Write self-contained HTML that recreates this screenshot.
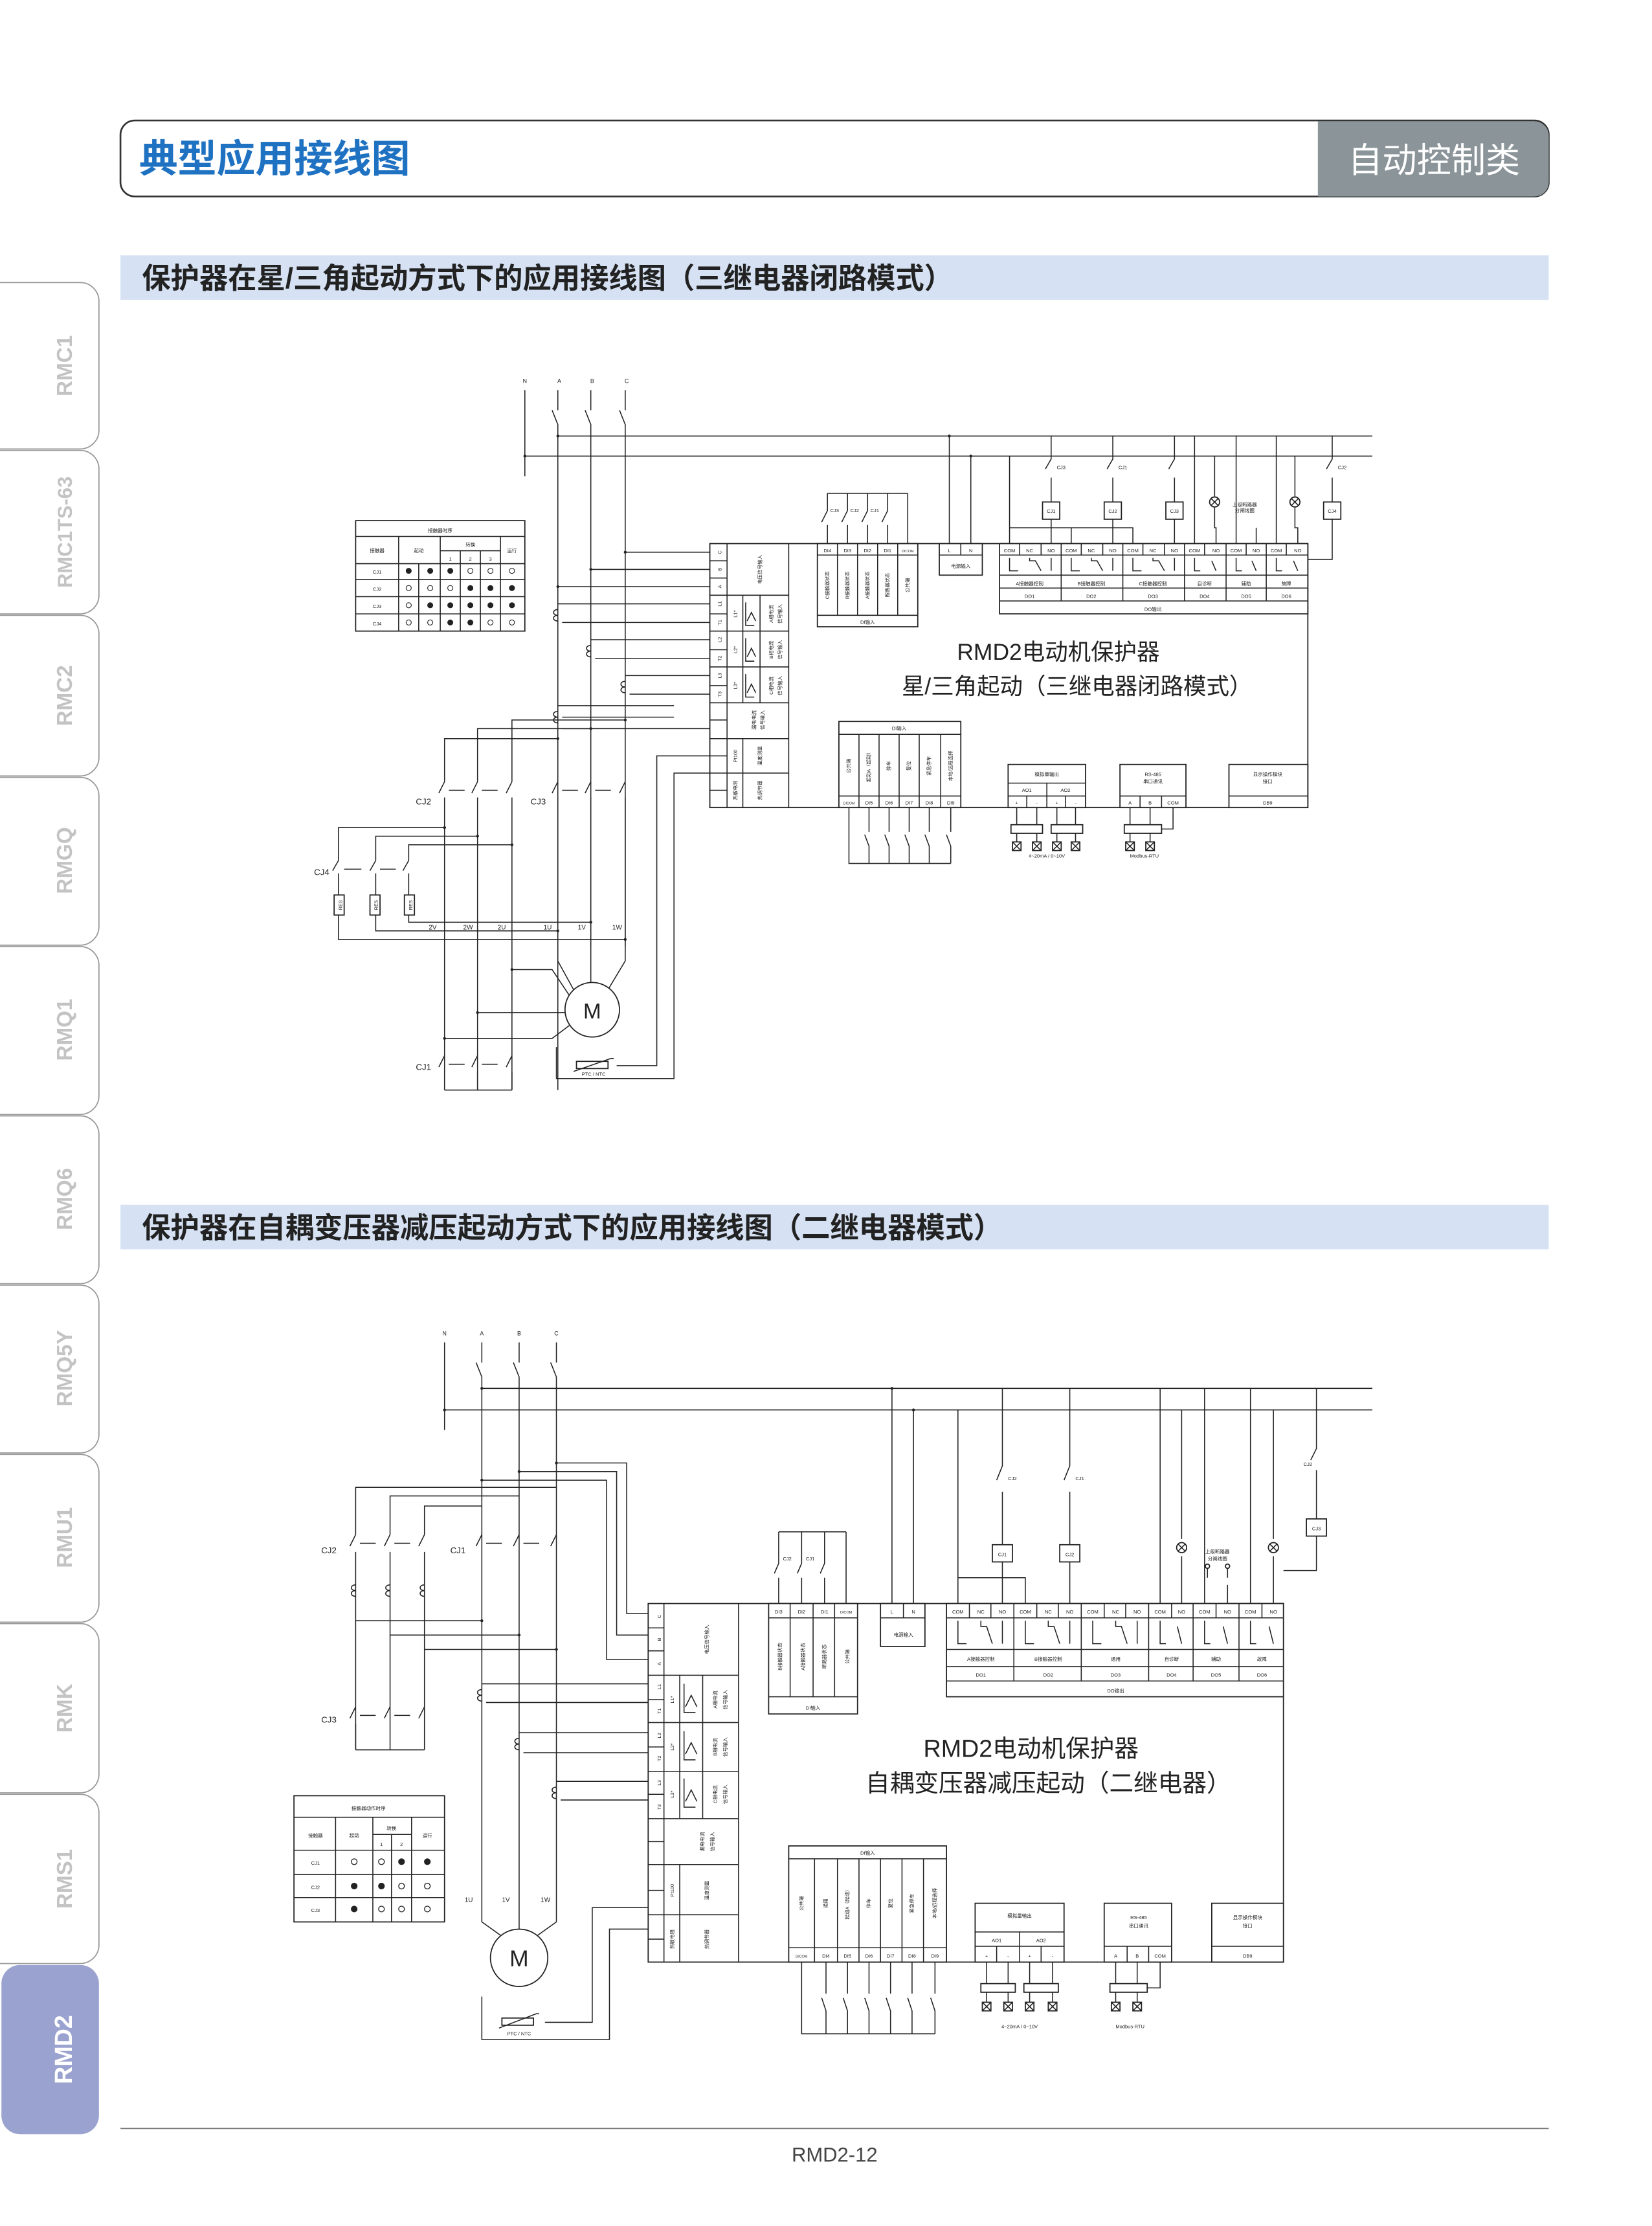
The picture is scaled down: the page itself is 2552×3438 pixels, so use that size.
<!DOCTYPE html>
<html><head><meta charset="utf-8"><style>
html,body{margin:0;padding:0;background:#fff;}
svg{display:block;}
text{font-family:"Liberation Sans","Noto Sans CJK SC",sans-serif;fill:#222;}
.side text{fill:#c3c3c3;}
.side text.w{fill:#fff;}
.l{stroke:#222;stroke-width:.7;fill:none;}
.b{stroke:#222;stroke-width:.8;fill:#fff;}
.t{font-size:4px;text-anchor:middle;}
.s{font-size:3.4px;text-anchor:middle;}
</style></head><body>
<svg width="2552" height="3438" viewBox="0 0 1152 1552" preserveAspectRatio="none" xmlns="http://www.w3.org/2000/svg">
<defs>
<g id="co"><path class="l" d="M0,0 c-4,0 -4,4 0,4 c-4,0 -4,4 0,4"/></g>
<g id="xx"><rect class="b" x="-3" y="-3" width="6" height="6"/><path class="l" d="M-3,-3L3,3M3,-3L-3,3"/></g>
<g id="lamp"><circle class="b" r="3.5"/><path class="l" d="M-2.5,-2.5L2.5,2.5M2.5,-2.5L-2.5,2.5"/></g>
</defs>
<rect width="1152" height="1552" fill="#fff"/>

<!-- Sidebar -->
<g class="side" font-family="Liberation Sans" font-weight="bold" font-size="15">
<path d="M0,197 H56 a13,13 0 0 1 13,13 V300 a13,13 0 0 1 -13,13 H0" fill="#fff" stroke="#999" stroke-width=".8"/>
<path d="M0,314 H56 a13,13 0 0 1 13,13 V415 a13,13 0 0 1 -13,13 H0" fill="#fff" stroke="#999" stroke-width=".8"/>
<path d="M0,429 H56 a13,13 0 0 1 13,13 V528 a13,13 0 0 1 -13,13 H0" fill="#fff" stroke="#999" stroke-width=".8"/>
<path d="M0,542 H56 a13,13 0 0 1 13,13 V646 a13,13 0 0 1 -13,13 H0" fill="#fff" stroke="#999" stroke-width=".8"/>
<path d="M0,660 H56 a13,13 0 0 1 13,13 V764 a13,13 0 0 1 -13,13 H0" fill="#fff" stroke="#999" stroke-width=".8"/>
<path d="M0,778 H56 a13,13 0 0 1 13,13 V882 a13,13 0 0 1 -13,13 H0" fill="#fff" stroke="#999" stroke-width=".8"/>
<path d="M0,896 H56 a13,13 0 0 1 13,13 V1000 a13,13 0 0 1 -13,13 H0" fill="#fff" stroke="#999" stroke-width=".8"/>
<path d="M0,1014 H56 a13,13 0 0 1 13,13 V1118 a13,13 0 0 1 -13,13 H0" fill="#fff" stroke="#999" stroke-width=".8"/>
<path d="M0,1132 H56 a13,13 0 0 1 13,13 V1237 a13,13 0 0 1 -13,13 H0" fill="#fff" stroke="#999" stroke-width=".8"/>
<path d="M0,1251 H56 a13,13 0 0 1 13,13 V1356 a13,13 0 0 1 -13,13 H0" fill="#fff" stroke="#999" stroke-width=".8"/>
<rect x="1" y="1370" width="68" height="118" rx="13" fill="#9aa3cf"/>
<text transform="translate(50,255) rotate(-90)" text-anchor="middle">RMC1</text>
<text transform="translate(50,371) rotate(-90)" text-anchor="middle" font-size="14">RMC1TS-63</text>
<text transform="translate(50,485) rotate(-90)" text-anchor="middle">RMC2</text>
<text transform="translate(50,600) rotate(-90)" text-anchor="middle">RMGQ</text>
<text transform="translate(50,718) rotate(-90)" text-anchor="middle">RMQ1</text>
<text transform="translate(50,836) rotate(-90)" text-anchor="middle">RMQ6</text>
<text transform="translate(50,954) rotate(-90)" text-anchor="middle">RMQ5Y</text>
<text transform="translate(50,1072) rotate(-90)" text-anchor="middle">RMU1</text>
<text transform="translate(50,1191) rotate(-90)" text-anchor="middle">RMK</text>
<text transform="translate(50,1310) rotate(-90)" text-anchor="middle">RMS1</text>
<text class="w" transform="translate(50,1429) rotate(-90)" text-anchor="middle" font-size="17">RMD2</text>
</g>

<!-- Header -->
<path d="M94,84 H1070 a10,10 0 0 1 10,10 V127 a10,10 0 0 1 -10,10 H94 a10,10 0 0 1 -10,-10 V94 a10,10 0 0 1 10,-10Z" fill="#fff" stroke="#333" stroke-width="1.2"/>
<path d="M919,84.6 H1070 a10,10 0 0 1 10,10 V127 a10,10 0 0 1 -10,10 H919Z" fill="#8a9499"/>
<text x="97" y="120" font-size="27" font-weight="bold" style="fill:#1f72c2">典型应用接线图</text>
<text x="1000" y="120" font-size="24" text-anchor="middle" style="fill:#fff">自动控制类</text>

<rect x="84" y="178" width="996" height="31" fill="#d6e2f3"/>
<text x="99" y="201" font-size="20" font-weight="bold">保护器在星/三角起动方式下的应用接线图（三继电器闭路模式）</text>
<rect x="84" y="840" width="996" height="31" fill="#d6e2f3"/>
<text x="99" y="863" font-size="20" font-weight="bold">保护器在自耦变压器减压起动方式下的应用接线图（二继电器模式）</text>

<line x1="84" y1="1484" x2="1080" y2="1484" stroke="#777" stroke-width=".8"/>
<text x="582" y="1507" font-size="14" text-anchor="middle" style="fill:#444">RMD2-12</text>

<!-- ================= DIAGRAM 1 ================= -->
<g>
<text class="t" x="366" y="267">N</text><text class="t" x="390" y="267">A</text><text class="t" x="413" y="267">B</text><text class="t" x="437" y="267">C</text>
<line class="l" x1="366" y1="272" x2="366" y2="332"/>
<path class="l" d="M389,272 V286 M385,286 L389,296 V760 M412,272 V286 M408,286 L412,296 V660 M436,272 V286 M432,286 L436,296 V660"/>
<path class="l" d="M389,304 H957 M366,318 H957"/>
<circle cx="389" cy="304" r="1" fill="#222"/><circle cx="366" cy="318" r="1" fill="#222"/>

<g>
<rect class="b" x="248" y="363" width="118" height="77"/>
<path class="l" d="M248,374 H366 M248,393 H366 M248,404 H366 M248,416 H366 M248,428 H366 M278,374 V440 M292,393 V440 M307,374 V440 M321,384 V440 M335,384 V440 M349,374 V440 M307,384 H349"/>
<text class="s" x="307" y="371">接触器时序</text>
<text class="s" x="263" y="385">接触器</text><text class="s" x="292" y="385">起动</text><text class="s" x="328" y="381">转换</text><text class="s" x="357" y="385">运行</text>
<text class="s" x="314" y="391">1</text><text class="s" x="328" y="391">2</text><text class="s" x="342" y="391">3</text>
<text class="s" x="263" y="400">CJ1</text><text class="s" x="263" y="412">CJ2</text><text class="s" x="263" y="424">CJ3</text><text class="s" x="263" y="436">CJ4</text>
<g fill="#222" stroke="#222" stroke-width=".5">
<circle cx="285" cy="398" r="1.8"/><circle cx="300" cy="398" r="1.8"/><circle cx="314" cy="398" r="1.8"/><circle cx="328" cy="398" r="1.8" fill="#fff"/><circle cx="342" cy="398" r="1.8" fill="#fff"/><circle cx="357" cy="398" r="1.8" fill="#fff"/>
<circle cx="285" cy="410" r="1.8" fill="#fff"/><circle cx="300" cy="410" r="1.8" fill="#fff"/><circle cx="314" cy="410" r="1.8" fill="#fff"/><circle cx="328" cy="410" r="1.8"/><circle cx="342" cy="410" r="1.8"/><circle cx="357" cy="410" r="1.8"/>
<circle cx="285" cy="422" r="1.8" fill="#fff"/><circle cx="300" cy="422" r="1.8"/><circle cx="314" cy="422" r="1.8"/><circle cx="328" cy="422" r="1.8"/><circle cx="342" cy="422" r="1.8"/><circle cx="357" cy="422" r="1.8"/>
<circle cx="285" cy="434" r="1.8" fill="#fff"/><circle cx="300" cy="434" r="1.8" fill="#fff"/><circle cx="314" cy="434" r="1.8"/><circle cx="328" cy="434" r="1.8"/><circle cx="342" cy="434" r="1.8" fill="#fff"/><circle cx="357" cy="434" r="1.8" fill="#fff"/>
</g>
</g>

<path class="l" d="M436,385 H495 M412,397 H495 M389,409 H495 M389,421 H495 M392,434 H495 M412,446 H495 M415,459 H495 M436,471 H495 M439,484 H495 M389,492 H470 M392,500 H470 M392,508 H495"/>
<use href="#co" x="389" y="425"/><use href="#co" x="412" y="450"/><use href="#co" x="436" y="475"/><use href="#co" x="389" y="496"/>
<g fill="#222"><circle cx="436" cy="385" r="1"/><circle cx="412" cy="397" r="1"/><circle cx="389" cy="409" r="1"/></g>

<rect class="b" x="495" y="379" width="417" height="184"/>
<path class="l" d="M495,391 H507 M495,403 H507 M495,415 H550 M495,428 H507 M495,440 H550 M495,453 H507 M495,465 H550 M495,478 H507 M495,490 H550 M495,502 H507 M495,515 H550 M495,527 H507 M495,539 H550 M495,551 H507 M507,379 V563 M518,415 V490 M518,515 V563 M530,415 V490 M550,379 V563"/>
<g class="s">
<text transform="translate(503,385) rotate(-90)">C</text><text transform="translate(503,397) rotate(-90)">B</text><text transform="translate(503,409) rotate(-90)">A</text>
<text transform="translate(503,421) rotate(-90)">L1</text><text transform="translate(503,434) rotate(-90)">T1</text><text transform="translate(503,446) rotate(-90)">L2</text><text transform="translate(503,459) rotate(-90)">T2</text><text transform="translate(503,471) rotate(-90)">L3</text><text transform="translate(503,484) rotate(-90)">T3</text>
<text transform="translate(514,428) rotate(-90)">L1*</text><text transform="translate(514,453) rotate(-90)">L2*</text><text transform="translate(514,478) rotate(-90)">L3*</text>
<text transform="translate(514,527) rotate(-90)">Pt100</text><text transform="translate(514,551) rotate(-90)">热敏电阻</text>
<text transform="translate(531,397) rotate(-90)">电压信号输入</text>
<text transform="translate(539,428) rotate(-90)">A相电流</text><text transform="translate(545,428) rotate(-90)">信号输入</text>
<text transform="translate(539,453) rotate(-90)">B相电流</text><text transform="translate(545,453) rotate(-90)">信号输入</text>
<text transform="translate(539,478) rotate(-90)">C相电流</text><text transform="translate(545,478) rotate(-90)">信号输入</text>
<text transform="translate(527,502) rotate(-90)">漏电电流</text><text transform="translate(533,502) rotate(-90)">信号输入</text>
<text transform="translate(531,527) rotate(-90)">温度测量</text><text transform="translate(531,551) rotate(-90)">热调节器</text>
</g>
<path class="l" d="M520,420 V436 H526 M520,445 V461 H526 M520,470 V486 H526 M521,433 l3,-6 l3,6 M521,458 l3,-6 l3,6 M521,483 l3,-6 l3,6"/>

<rect class="b" x="570" y="379" width="70" height="58"/>
<path class="l" d="M570,387 H640 M570,429 H640 M584,379 V429 M598,379 V429 M612,379 V429 M626,379 V429"/>
<g class="s"><text x="577" y="385">DI4</text><text x="591" y="385">DI3</text><text x="605" y="385">DI2</text><text x="619" y="385">DI1</text><text x="633" y="385" font-size="2.5">DICOM</text><text x="605" y="435">DI输入</text>
<text transform="translate(578,408) rotate(-90)">C接触器状态</text><text transform="translate(592,408) rotate(-90)">B接触器状态</text><text transform="translate(606,408) rotate(-90)">A接触器状态</text><text transform="translate(620,408) rotate(-90)">断路器状态</text><text transform="translate(634,408) rotate(-90)">公共端</text></g>
<path class="l" d="M577,379 V366 M573,364 L577,356 V344 M591,379 V366 M587,364 L591,356 V344 M605,379 V366 M601,364 L605,356 V344 M619,379 V366 M615,364 L619,356 V344 M633,379 V344 M577,344 H633"/>
<g class="s" font-size="2.8"><text x="582" y="357">CJ3</text><text x="596" y="357">CJ2</text><text x="610" y="357">CJ1</text></g>

<rect class="b" x="655" y="379" width="30" height="22"/>
<path class="l" d="M655,387 H685 M670,379 V387 M662,379 V304 M677,379 V318"/>
<text class="s" x="662" y="385">L</text><text class="s" x="677" y="385">N</text><text class="s" x="670" y="396">电源输入</text>
<g fill="#222"><circle cx="662" cy="304" r="1"/><circle cx="677" cy="318" r="1"/></g>

<rect class="b" x="697" y="379" width="215" height="49"/>
<path class="l" d="M697,387 H912 M697,401 H912 M697,410 H912 M697,419 H912 M740,379 V419 M783,379 V419 M826,379 V419 M855,379 V419 M883,379 V419 M711,379 V387 M726,379 V387 M754,379 V387 M769,379 V387 M797,379 V387 M812,379 V387 M840,379 V387 M869,379 V387 M897,379 V387"/>
<g class="s" font-size="3">
<text x="704" y="385">COM</text><text x="718" y="385">NC</text><text x="733" y="385">NO</text>
<text x="747" y="385">COM</text><text x="761" y="385">NC</text><text x="776" y="385">NO</text>
<text x="790" y="385">COM</text><text x="804" y="385">NC</text><text x="819" y="385">NO</text>
<text x="833" y="385">COM</text><text x="848" y="385">NO</text><text x="862" y="385">COM</text><text x="876" y="385">NO</text><text x="890" y="385">COM</text><text x="905" y="385">NO</text>
<text x="718" y="408">A接触器控制</text><text x="761" y="408">B接触器控制</text><text x="804" y="408">C接触器控制</text><text x="840" y="408">自诊断</text><text x="869" y="408">辅助</text><text x="897" y="408">故障</text>
<text x="718" y="417">DO1</text><text x="761" y="417">DO2</text><text x="804" y="417">DO3</text><text x="840" y="417">DO4</text><text x="869" y="417">DO5</text><text x="897" y="417">DO6</text>
<text x="804" y="426">DO输出</text></g>
<path class="l" d="M704,389 V398 H710 M718,389 V391 H722 L726,398 M733,389 V398 M747,389 V398 H753 M761,389 V391 H765 L769,398 M776,389 V398 M790,389 V398 H796 M804,389 V391 H808 L812,398 M819,389 V398 M833,389 V398 H837 M845,391 L848,398 M862,389 V398 H866 M873,391 L876,398 M890,389 V398 H894 M902,391 L905,398"/>
<path class="l" d="M704,379 V368 H790 V379 M747,368 V379 M704,368 V318 M733,379 V362 M776,379 V362 M819,379 V362 M733,350 V333 M729,327 L733,320 V304 M776,350 V333 M772,327 L776,320 V304 M819,350 V333 M815,327 L819,320 V304 M833,379 V304 M848,379 V368 H847 V354 M847,346 V318 M862,379 V304 M876,379 V368 M890,379 V304 M905,379 V368 H903 V354 M903,346 V318 M929,362 V390 H912 M929,350 V333 M925,327 L929,320 V304"/>
<rect class="b" x="727" y="350" width="12" height="12"/><text class="s" x="733" y="357.5" font-size="3">CJ1</text>
<rect class="b" x="770" y="350" width="12" height="12"/><text class="s" x="776" y="357.5" font-size="3">CJ2</text>
<rect class="b" x="813" y="350" width="12" height="12"/><text class="s" x="819" y="357.5" font-size="3">CJ3</text>
<rect class="b" x="923" y="350" width="12" height="12"/><text class="s" x="929" y="357.5" font-size="3">CJ4</text>
<use href="#lamp" x="847" y="350"/><use href="#lamp" x="903" y="350"/>
<g class="s" font-size="2.5"><text x="740" y="327">CJ3</text><text x="783" y="327">CJ1</text><text x="936" y="327">CJ2</text><text x="868" y="353">上级断路器</text><text x="868" y="357">分闸线圈</text></g>

<text x="738" y="460" font-size="16" text-anchor="middle">RMD2电动机保护器</text>
<text x="751" y="484" font-size="16" text-anchor="middle">星/三角起动（三继电器闭路模式）</text>

<rect class="b" x="585" y="503" width="85" height="60"/>
<path class="l" d="M585,512 H670 M585,555 H670 M599,512 V563 M613,512 V563 M627,512 V563 M641,512 V563 M656,512 V563"/>
<g class="s" font-size="3"><text x="627" y="509">DI输入</text>
<text x="592" y="561" font-size="2.4">DICOM</text><text x="606" y="561">DI5</text><text x="620" y="561">DI6</text><text x="634" y="561">DI7</text><text x="648" y="561">DI8</text><text x="663" y="561">DI9</text>
<text transform="translate(593,534) rotate(-90)">公共端</text><text transform="translate(607,534) rotate(-90)">起动A（起动）</text><text transform="translate(621,534) rotate(-90)">停车</text><text transform="translate(635,534) rotate(-90)">复位</text><text transform="translate(649,534) rotate(-90)">紧急停车</text><text transform="translate(664,534) rotate(-90)">本地/远程选择</text></g>
<path class="l" d="M592,563 V602 H663 M606,563 V580 M603,582 L606,590 V602 M620,563 V580 M617,582 L620,590 V602 M634,563 V580 M631,582 L634,590 V602 M648,563 V580 M645,582 L648,590 V602 M663,563 V580 M660,582 L663,590 V602"/>
<rect class="b" x="703" y="533" width="54" height="30"/>
<path class="l" d="M703,546 H757 M703,555 H757 M730,546 V563 M716,555 V563 M743,555 V563"/>
<g class="s" font-size="3"><text x="730" y="541">模拟量输出</text><text x="716" y="552">AO1</text><text x="743" y="552">AO2</text><text x="709" y="561">+</text><text x="723" y="561">-</text><text x="737" y="561">+</text><text x="750" y="561">-</text></g>
<path class="l" d="M709,563 V575 M723,563 V575 M737,563 V575 M750,563 V575"/>
<rect class="b" x="705" y="575" width="22" height="6"/><rect class="b" x="733" y="575" width="22" height="6"/>
<path class="l" d="M709,581 V587 M723,581 V587 M737,581 V587 M750,581 V587"/>
<use href="#xx" x="709" y="590"/><use href="#xx" x="723" y="590"/><use href="#xx" x="737" y="590"/><use href="#xx" x="750" y="590"/>
<text class="s" x="730" y="598" font-size="3">4~20mA / 0~10V</text>
<rect class="b" x="781" y="533" width="46" height="30"/>
<path class="l" d="M781,555 H827 M795,555 V563 M810,555 V563"/>
<g class="s" font-size="3"><text x="804" y="541">RS-485</text><text x="804" y="546">串口通讯</text><text x="788" y="561">A</text><text x="802" y="561">B</text><text x="818" y="561">COM</text></g>
<path class="l" d="M788,563 V575 M802,563 V575 M818,563 V578 H810"/>
<rect class="b" x="784" y="575" width="26" height="6"/>
<path class="l" d="M788,581 V587 M802,581 V587"/><use href="#xx" x="788" y="590"/><use href="#xx" x="802" y="590"/>
<text class="s" x="798" y="598" font-size="3">Modbus-RTU</text>
<rect class="b" x="857" y="533" width="55" height="30"/>
<path class="l" d="M857,555 H912"/>
<g class="s" font-size="3"><text x="884" y="541">显示操作模块</text><text x="884" y="546">接口</text><text x="884" y="561">DB9</text></g>

<path class="l" d="M436,502 H357 V545 M412,508 H333 V545 M389,515 H310 V545"/>
<g fill="#222"><circle cx="436" cy="502" r="1"/><circle cx="412" cy="508" r="1"/><circle cx="389" cy="515" r="1"/></g>
<path class="l" d="M310,545 L306,553 M310,556 V760 M333,545 L329,553 M333,556 V760 M357,545 L353,553 M357,556 V760 M313,551 H324 M336,551 H347"/>
<path class="l" d="M389,545 L385,553 M412,545 L408,553 M436,545 L432,553 M392,551 H403 M415,551 H426"/>
<text x="290" y="561" font-size="6">CJ2</text><text x="370" y="561" font-size="6">CJ3</text>
<path class="l" d="M310,577 H236 V600 M333,583 H262 V600 M357,589 H285 V600 M236,600 L232,607 M236,609 V624 M262,600 L258,607 M262,609 V624 M285,600 L281,607 M285,609 V624 M240,606 H252 M265,606 H276"/>
<g fill="#222"><circle cx="310" cy="577" r="1"/><circle cx="333" cy="583" r="1"/><circle cx="357" cy="589" r="1"/></g>
<text x="219" y="610" font-size="6">CJ4</text>
<rect class="b" x="233" y="624" width="7" height="14"/><rect class="b" x="258" y="624" width="7" height="14"/><rect class="b" x="282" y="624" width="7" height="14"/>
<g class="s" font-size="2.6"><text transform="translate(237.5,631) rotate(-90)" dy="1">RES</text><text transform="translate(262.5,631) rotate(-90)" dy="1">RES</text><text transform="translate(286.5,631) rotate(-90)" dy="1">RES</text></g>
<path class="l" d="M285,638 V643 H412 M262,638 V649 H389 M236,638 V655 H436"/>
<g fill="#222"><circle cx="412" cy="643" r="1"/><circle cx="389" cy="649" r="1"/><circle cx="436" cy="655" r="1"/></g>
<g font-size="4.5"><text x="299" y="648">2V</text><text x="323" y="648">2W</text><text x="347" y="648">2U</text><text x="379" y="648">1U</text><text x="403" y="648">1V</text><text x="427" y="648">1W</text></g>
<path class="l" d="M389,556 V670 L400,690 M412,556 V685 M436,556 V670 L424,690 M357,676 H385 L397,694 M333,706 H394 M310,724 H385 L397,715"/>
<g fill="#222"><circle cx="357" cy="676" r="1"/><circle cx="333" cy="706" r="1"/><circle cx="310" cy="724" r="1"/></g>
<circle class="b" cx="413" cy="704" r="19"/>
<text x="413" y="710" font-size="15" text-anchor="middle">M</text>
<path class="l" d="M310,736 L306,744 M310,747 V760 M333,736 L329,744 M333,747 V760 M357,736 L353,744 M357,747 V760 M310,760 H357 M313,742 H324 M336,742 H347"/>
<text x="290" y="746" font-size="6">CJ1</text>
<path class="l" d="M388,730 V752 H470 V539 H495 M430,743 H458 V527 H495"/>
<rect class="b" x="402" y="740" width="22" height="5"/><path class="l" d="M400,747 L426,738 l2,0"/>
<text class="s" x="414" y="750" font-size="3.2">PTC / NTC</text>
</g>

<!-- ================= DIAGRAM 2 ================= -->
<g>
<text class="t" x="310" y="931">N</text><text class="t" x="336" y="931">A</text><text class="t" x="362" y="931">B</text><text class="t" x="388" y="931">C</text>
<path class="l" d="M310,936 V997 M336,936 V950 M332,950 L336,960 V1340 M362,936 V950 M358,950 L362,960 V1340 M388,936 V950 M384,950 L388,960 V1340"/>
<path class="l" d="M336,968 H957 M310,983 H957"/>
<g fill="#222"><circle cx="336" cy="968" r="1"/><circle cx="310" cy="983" r="1"/></g>
<path class="l" d="M388,1037 H248 V1070 M362,1043 H272 V1070 M336,1050 H296 V1070"/>
<path class="l" d="M248,1070 L244,1078 M248,1082 V1220 M272,1070 L268,1078 M272,1082 V1220 M296,1070 L292,1078 M296,1082 V1220 M251,1076 H262 M275,1076 H286"/>
<path class="l" d="M336,1070 L332,1078 M362,1070 L358,1078 M388,1070 L384,1078 M339,1076 H350 M365,1076 H376"/>
<text x="224" y="1083" font-size="6">CJ2</text><text x="314" y="1083" font-size="6">CJ1</text>
<use href="#co" x="248" y="1105"/><use href="#co" x="272" y="1105"/><use href="#co" x="296" y="1105"/>
<path class="l" d="M248,1130 H336 M272,1140 H362 M296,1150 H388"/>
<g fill="#222"><circle cx="336" cy="1130" r="1"/><circle cx="362" cy="1140" r="1"/><circle cx="388" cy="1150" r="1"/></g>
<path class="l" d="M248,1190 L244,1198 M248,1202 V1220 M272,1190 L268,1198 M296,1190 L292,1198 M251,1196 H262 M275,1196 H286 M248,1220 H296"/>
<text x="224" y="1201" font-size="6">CJ3</text>
<path class="l" d="M388,1020 H437 V1125 H452 M362,1026 H430 V1140 H452 M336,1032 H423 V1157 H452"/>
<g fill="#222"><circle cx="388" cy="1020" r="1"/><circle cx="362" cy="1026" r="1"/><circle cx="336" cy="1032" r="1"/></g>
<path class="l" d="M336,1174 H452 M339,1187 H452 M362,1208 H452 M365,1222 H452 M388,1242 H452 M391,1255 H452"/>
<use href="#co" x="336" y="1178"/><use href="#co" x="362" y="1212"/><use href="#co" x="388" y="1246"/>
<rect class="b" x="205" y="1252" width="105" height="88"/>
<path class="l" d="M205,1267 H310 M205,1290 H310 M205,1307 H310 M205,1323 H310 M234,1267 V1340 M260,1267 V1340 M287,1267 V1340 M273,1279 V1340 M260,1279 H287"/>
<g class="s"><text x="257" y="1262">接触器动作时序</text><text x="220" y="1281">接触器</text><text x="247" y="1281">起动</text><text x="273" y="1276">转换</text><text x="298" y="1281">运行</text><text x="266" y="1287">1</text><text x="280" y="1287">2</text>
<text x="220" y="1300">CJ1</text><text x="220" y="1317">CJ2</text><text x="220" y="1333">CJ3</text></g>
<g stroke="#222" stroke-width=".6" fill="#222">
<circle cx="247" cy="1298" r="2" fill="#fff"/><circle cx="266" cy="1298" r="2" fill="#fff"/><circle cx="280" cy="1298" r="2"/><circle cx="298" cy="1298" r="2"/>
<circle cx="247" cy="1315" r="2"/><circle cx="266" cy="1315" r="2"/><circle cx="280" cy="1315" r="2" fill="#fff"/><circle cx="298" cy="1315" r="2" fill="#fff"/>
<circle cx="247" cy="1331" r="2"/><circle cx="266" cy="1331" r="2" fill="#fff"/><circle cx="280" cy="1331" r="2" fill="#fff"/><circle cx="298" cy="1331" r="2" fill="#fff"/></g>
<g font-size="4.5"><text x="324" y="1326">1U</text><text x="350" y="1326">1V</text><text x="377" y="1326">1W</text></g>
<path class="l" d="M336,1340 L350,1350 M362,1340 V1345 M388,1340 L374,1350"/>
<circle class="b" cx="362" cy="1365" r="20"/>
<text x="362" y="1371" font-size="16" text-anchor="middle">M</text>
<path class="l" d="M336,1392 V1422 H425 V1345 H452 M380,1410 H413 V1330 H452 M350,1410 H372"/>
<rect class="b" x="350" y="1407" width="22" height="5"/><path class="l" d="M348,1414 L374,1404 l2,0"/>
<text class="s" x="362" y="1419" font-size="3.2">PTC / NTC</text>

<rect class="b" x="452" y="1118" width="443" height="250"/>
<path class="l" d="M452,1135 H463 M452,1151 H463 M452,1168 H515 M452,1185 H463 M452,1201 H515 M452,1218 H463 M452,1235 H515 M452,1251 H463 M452,1268 H515 M452,1284 H463 M452,1300 H515 M452,1318 H463 M452,1335 H515 M452,1352 H463 M463,1118 V1368 M474,1168 V1268 M474,1300 V1368 M490,1168 V1268 M515,1118 V1368"/>
<g class="s">
<text transform="translate(461,1127) rotate(-90)">C</text><text transform="translate(461,1143) rotate(-90)">B</text><text transform="translate(461,1160) rotate(-90)">A</text>
<text transform="translate(461,1176) rotate(-90)">L1</text><text transform="translate(461,1193) rotate(-90)">T1</text><text transform="translate(461,1210) rotate(-90)">L2</text><text transform="translate(461,1226) rotate(-90)">T2</text><text transform="translate(461,1243) rotate(-90)">L3</text><text transform="translate(461,1260) rotate(-90)">T3</text>
<text transform="translate(470,1185) rotate(-90)">L1*</text><text transform="translate(470,1218) rotate(-90)">L2*</text><text transform="translate(470,1251) rotate(-90)">L3*</text>
<text transform="translate(470,1318) rotate(-90)">Pt100</text><text transform="translate(470,1352) rotate(-90)">热敏电阻</text>
<text transform="translate(494,1143) rotate(-90)">电压信号输入</text>
<text transform="translate(500,1185) rotate(-90)">A相电流</text><text transform="translate(507,1185) rotate(-90)">信号输入</text>
<text transform="translate(500,1218) rotate(-90)">B相电流</text><text transform="translate(507,1218) rotate(-90)">信号输入</text>
<text transform="translate(500,1251) rotate(-90)">C相电流</text><text transform="translate(507,1251) rotate(-90)">信号输入</text>
<text transform="translate(491,1284) rotate(-90)">漏电电流</text><text transform="translate(498,1284) rotate(-90)">信号输入</text>
<text transform="translate(494,1318) rotate(-90)">温度测量</text><text transform="translate(494,1352) rotate(-90)">热调节器</text>
</g>
<path class="l" d="M477,1174 V1194 H485 M477,1207 V1227 H485 M477,1240 V1260 H485 M478,1190 l4,-8 l4,8 M478,1223 l4,-8 l4,8 M478,1256 l4,-8 l4,8"/>

<rect class="b" x="536" y="1118" width="62" height="77"/>
<path class="l" d="M536,1128 H598 M536,1183 H598 M551,1118 V1183 M567,1118 V1183 M582,1118 V1183"/>
<g class="s"><text x="543" y="1125">DI3</text><text x="559" y="1125">DI2</text><text x="575" y="1125">DI1</text><text x="590" y="1125" font-size="2.5">DICOM</text><text x="567" y="1192">DI输入</text>
<text transform="translate(545,1155) rotate(-90)">B接触器状态</text><text transform="translate(561,1155) rotate(-90)">A接触器状态</text><text transform="translate(576,1155) rotate(-90)">断路器状态</text><text transform="translate(592,1155) rotate(-90)">公共端</text></g>
<path class="l" d="M543,1118 V1100 M540,1097 L543,1090 V1068 M559,1118 V1100 M556,1097 L559,1090 V1068 M575,1118 V1100 M572,1097 L575,1090 V1068 M590,1118 V1068 M543,1068 H590"/>
<g class="s" font-size="2.8"><text x="549" y="1088">CJ2</text><text x="565" y="1088">CJ1</text></g>

<rect class="b" x="614" y="1118" width="31" height="30"/>
<path class="l" d="M614,1128 H645 M630,1118 V1128 M622,1118 V968 M637,1118 V983"/>
<text class="s" x="622" y="1125">L</text><text class="s" x="637" y="1125">N</text><text class="s" x="630" y="1141">电源输入</text>
<g fill="#222"><circle cx="622" cy="968" r="1"/><circle cx="637" cy="983" r="1"/></g>

<rect class="b" x="660" y="1118" width="235" height="65"/>
<path class="l" d="M660,1128 H895 M660,1150 H895 M660,1162 H895 M660,1172 H895 M707,1118 V1172 M754,1118 V1172 M801,1118 V1172 M832,1118 V1172 M864,1118 V1172 M676,1118 V1128 M691,1118 V1128 M723,1118 V1128 M738,1118 V1128 M770,1118 V1128 M785,1118 V1128 M817,1118 V1128 M848,1118 V1128 M880,1118 V1128"/>
<g class="s" font-size="3.3">
<text x="668" y="1125">COM</text><text x="684" y="1125">NC</text><text x="699" y="1125">NO</text>
<text x="715" y="1125">COM</text><text x="731" y="1125">NC</text><text x="746" y="1125">NO</text>
<text x="762" y="1125">COM</text><text x="778" y="1125">NC</text><text x="793" y="1125">NO</text>
<text x="809" y="1125">COM</text><text x="824" y="1125">NO</text><text x="840" y="1125">COM</text><text x="856" y="1125">NO</text><text x="872" y="1125">COM</text><text x="888" y="1125">NO</text>
<text x="684" y="1158">A接触器控制</text><text x="731" y="1158">B接触器控制</text><text x="778" y="1158">通用</text><text x="817" y="1158">自诊断</text><text x="848" y="1158">辅助</text><text x="880" y="1158">故障</text>
<text x="684" y="1169">DO1</text><text x="731" y="1169">DO2</text><text x="778" y="1169">DO3</text><text x="817" y="1169">DO4</text><text x="848" y="1169">DO5</text><text x="880" y="1169">DO6</text>
<text x="778" y="1180">DO输出</text></g>
<path class="l" d="M668,1130 V1146 H674 M684,1130 V1134 H688 L692,1146 M699,1130 V1146 M715,1130 V1146 H721 M731,1130 V1134 H735 L739,1146 M746,1130 V1146 M762,1130 V1146 H768 M778,1130 V1134 H782 L786,1146 M793,1130 V1146 M809,1130 V1146 H813 M821,1134 L824,1146 M840,1130 V1146 H844 M853,1134 L856,1146 M872,1130 V1146 H876 M885,1134 L888,1146"/>
<path class="l" d="M668,1118 V1100 H715 V1118 M668,1100 V983 M699,1118 V1089 M746,1118 V1089 M699,1077 V1040 M695,1032 L699,1022 V968 M746,1077 V1040 M742,1032 L746,1022 V968 M809,1118 V968 M824,1118 V1085 M824,1073 V983 M840,1118 V968 M856,1118 V1105 M872,1118 V968 M888,1118 V1085 M888,1073 V983 M918,1071 V1095 H895 M918,1059 V1025 M914,1018 L918,1010 V968"/>
<rect class="b" x="692" y="1077" width="14" height="12"/><text class="s" x="699" y="1085" font-size="3.3">CJ1</text>
<rect class="b" x="739" y="1077" width="14" height="12"/><text class="s" x="746" y="1085" font-size="3.3">CJ2</text>
<rect class="b" x="911" y="1059" width="14" height="12"/><text class="s" x="918" y="1067" font-size="3.3">CJ3</text>
<use href="#lamp" x="824" y="1079"/><use href="#lamp" x="888" y="1079"/>
<g class="s" font-size="2.5"><text x="706" y="1032">CJ2</text><text x="753" y="1032">CJ1</text><text x="912" y="1022">CJ2</text><text x="849" y="1083">上级断路器</text><text x="849" y="1088">分闸线圈</text></g>
<path class="l" d="M842,1092 V1100 M856,1092 V1100"/><circle class="b" cx="842" cy="1092" r="1.5"/><circle class="b" cx="856" cy="1092" r="1.5"/>

<text x="719" y="1225" font-size="17" text-anchor="middle">RMD2电动机保护器</text>
<text x="731" y="1249" font-size="17" text-anchor="middle">自耦变压器减压起动（二继电器）</text>

<rect class="b" x="550" y="1287" width="110" height="81"/>
<path class="l" d="M550,1296 H660 M550,1358 H660 M568,1296 V1368 M584,1296 V1368 M599,1296 V1368 M614,1296 V1368 M629,1296 V1368 M644,1296 V1368"/>
<g class="s" font-size="3.3"><text x="605" y="1293">DI输入</text>
<text x="559" y="1365" font-size="2.5">DICOM</text><text x="576" y="1365">DI4</text><text x="591" y="1365">DI5</text><text x="606" y="1365">DI6</text><text x="621" y="1365">DI7</text><text x="636" y="1365">DI8</text><text x="652" y="1365">DI9</text>
<text transform="translate(560,1327) rotate(-90)">公共端</text><text transform="translate(577,1327) rotate(-90)">通用</text><text transform="translate(592,1327) rotate(-90)">起动A（起动）</text><text transform="translate(607,1327) rotate(-90)">停车</text><text transform="translate(622,1327) rotate(-90)">复位</text><text transform="translate(637,1327) rotate(-90)">紧急停车</text><text transform="translate(653,1327) rotate(-90)">本地/远程选择</text></g>
<path class="l" d="M559,1368 V1418 H652 M576,1368 V1390 M573,1393 L576,1402 V1418 M591,1368 V1390 M588,1393 L591,1402 V1418 M606,1368 V1390 M603,1393 L606,1402 V1418 M621,1368 V1390 M618,1393 L621,1402 V1418 M636,1368 V1390 M633,1393 L636,1402 V1418 M652,1368 V1390 M649,1393 L652,1402 V1418"/>
<rect class="b" x="680" y="1327" width="62" height="41"/>
<path class="l" d="M680,1347 H742 M680,1357 H742 M711,1347 V1368 M695,1357 V1368 M726,1357 V1368"/>
<g class="s" font-size="3.3"><text x="711" y="1337">模拟量输出</text><text x="695" y="1354">AO1</text><text x="726" y="1354">AO2</text><text x="688" y="1365">+</text><text x="703" y="1365">-</text><text x="718" y="1365">+</text><text x="734" y="1365">-</text></g>
<path class="l" d="M688,1368 V1383 M703,1368 V1383 M718,1368 V1383 M734,1368 V1383"/>
<rect class="b" x="684" y="1383" width="24" height="6"/><rect class="b" x="714" y="1383" width="24" height="6"/>
<path class="l" d="M688,1389 V1396 M703,1389 V1396 M718,1389 V1396 M734,1389 V1396"/>
<use href="#xx" x="688" y="1399"/><use href="#xx" x="703" y="1399"/><use href="#xx" x="718" y="1399"/><use href="#xx" x="734" y="1399"/>
<text class="s" x="711" y="1414" font-size="3.3">4~20mA / 0~10V</text>
<rect class="b" x="770" y="1327" width="47" height="41"/>
<path class="l" d="M770,1357 H817 M786,1357 V1368 M801,1357 V1368"/>
<g class="s" font-size="3.3"><text x="794" y="1338">RS-485</text><text x="794" y="1344">串口通讯</text><text x="778" y="1365">A</text><text x="793" y="1365">B</text><text x="809" y="1365">COM</text></g>
<path class="l" d="M778,1368 V1383 M793,1368 V1383 M809,1368 V1386 H800"/>
<rect class="b" x="774" y="1383" width="26" height="6"/>
<path class="l" d="M778,1389 V1396 M793,1389 V1396"/><use href="#xx" x="778" y="1399"/><use href="#xx" x="793" y="1399"/>
<text class="s" x="788" y="1414" font-size="3.3">Modbus-RTU</text>
<rect class="b" x="845" y="1327" width="50" height="41"/>
<path class="l" d="M845,1357 H895"/>
<g class="s" font-size="3.3"><text x="870" y="1338">显示操作模块</text><text x="870" y="1344">接口</text><text x="870" y="1365">DB9</text></g>
</g>
</svg>
</body></html>
